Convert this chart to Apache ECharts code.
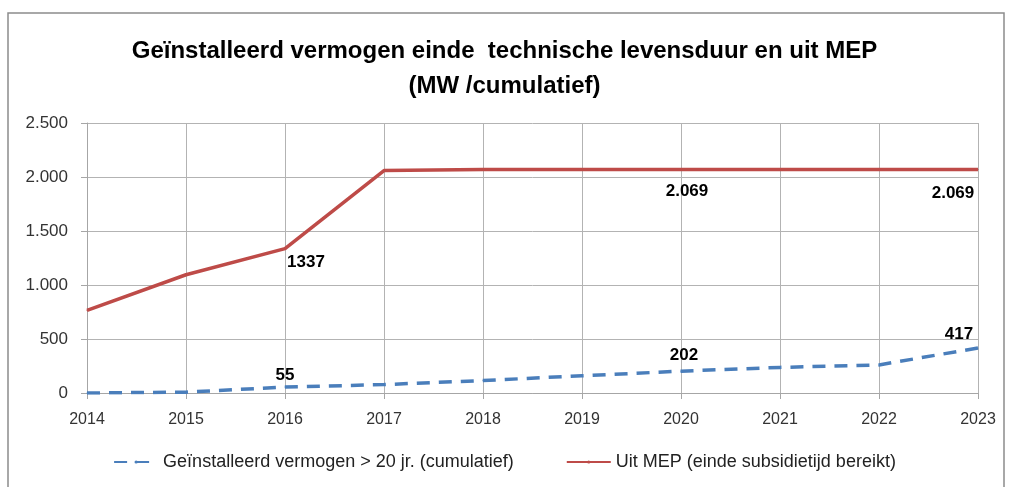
<!DOCTYPE html>
<html>
<head>
<meta charset="utf-8">
<script src="https://cdn.jsdelivr.net/npm/echarts@6/dist/echarts.min.js"></script>
<style>
  html, body { margin: 0; padding: 0; background: #fff; }
  #chart { width: 1009px; height: 487px; }
</style>
</head>
<body>
<div id="chart"></div>
<script>
// jaren op de x-as
const years = ['2014', '2015', '2016', '2017', '2018', '2019', '2020', '2021', '2022', '2023'];
// Geïnstalleerd vermogen > 20 jr. (cumulatief), MW
const installed = [0, 8, 55, 78, 115, 160, 202, 237, 260, 417];
// Uit MEP (einde subsidietijd bereikt), MW
const outOfMep = [765, 1095, 1337, 2060, 2069, 2069, 2069, 2069, 2069, 2069];
// welke punten een label krijgen
const installedLabelIdx = [2, 6, 9];
const mepLabelIdx = [2, 6, 9];

const seriesNames = ['Geïnstalleerd vermogen > 20 jr. (cumulatief)', 'Uit MEP (einde subsidietijd bereikt)'];

function nl(v) {
  return String(v).replace(/\B(?=(\d{3})+(?!\d))/g, '.');
}

const labelFont = { fontFamily: 'Liberation Sans', fontWeight: 'bold', fontSize: 17, color: '#000' };

// label-offsets per punt (alleen opmaak)
const installedLabelPos = {
  2: { position: 'top', offset: [0, 2] },
  6: { position: 'top', offset: [3, -2] },
  9: { position: 'top', offset: [-19, 0] }
};
const mepLabelPos = {
  2: { position: 'bottom', offset: [21, 0], fmt: v => String(v) },
  6: { position: 'bottom', offset: [6, 8], fmt: nl },
  9: { position: 'bottom', offset: [-25, 10], fmt: nl }
};

const installedData = installed.map((v, i) => {
  if (installedLabelIdx.indexOf(i) < 0) return v;
  const p = installedLabelPos[i];
  return { value: v, label: Object.assign({ show: true, position: p.position, offset: p.offset }, labelFont) };
});
const mepData = outOfMep.map((v, i) => {
  if (mepLabelIdx.indexOf(i) < 0) return v;
  const p = mepLabelPos[i];
  return {
    value: v,
    label: Object.assign({ show: true, position: p.position, offset: p.offset, formatter: o => p.fmt(o.value) }, labelFont)
  };
});

const chart = echarts.init(document.getElementById('chart'));
const option = {
  backgroundColor: '#fff',
  animation: false,
  graphic: [{
    type: 'rect',
    shape: { x: 8, y: 13, width: 996, height: 490 },
    style: { fill: 'none', stroke: '#8c8c8c', lineWidth: 1.5 },
    silent: true
  }],
  title: {
    text: 'Geïnstalleerd vermogen einde  technische levensduur en uit MEP\n(MW /cumulatief)',
    left: 'center',
    top: 29,
    textStyle: {
      fontFamily: 'Liberation Sans',
      fontWeight: 'bold',
      fontSize: 24,
      lineHeight: 35,
      color: '#000'
    }
  },
  legend: {
    bottom: 11,
    left: 'center',
    itemWidth: 44,
    itemHeight: 4,
    itemGap: 52,
    data: seriesNames,
    textStyle: { fontFamily: 'Liberation Sans', fontSize: 18, color: '#222' }
  },
  grid: { left: 87, right: 31, top: 123, bottom: 94 },
  xAxis: {
    type: 'category',
    boundaryGap: false,
    data: years,
    axisLine: { lineStyle: { color: '#a6a6a6', width: 1 } },
    axisTick: { show: true, length: 6, lineStyle: { color: '#a6a6a6' } },
    splitLine: { show: true, lineStyle: { color: '#b3b3b3', width: 1 } },
    axisLabel: { fontFamily: 'Liberation Sans', fontSize: 16, color: '#333', margin: 19, showMaxLabel: true }
  },
  yAxis: {
    type: 'value',
    min: 0,
    max: 2500,
    interval: 500,
    axisLine: { show: true, lineStyle: { color: '#a6a6a6' } },
    axisTick: { show: true, length: 6, lineStyle: { color: '#a6a6a6' } },
    splitLine: { lineStyle: { color: '#b3b3b3', width: 1 } },
    axisLabel: { fontFamily: 'Liberation Sans', fontSize: 17, color: '#333', margin: 19, formatter: nl }
  },
  series: [
    {
      name: seriesNames[0],
      type: 'line',
      data: installedData,
      symbol: 'circle',
      symbolSize: 1,
      itemStyle: { color: '#4a7ebb' },
      lineStyle: { color: '#4a7ebb', width: 3.5, type: [13, 9] }
    },
    {
      name: seriesNames[1],
      type: 'line',
      data: mepData,
      symbol: 'circle',
      symbolSize: 1,
      itemStyle: { color: '#be4b48' },
      lineStyle: { color: '#be4b48', width: 3.5 }
    }
  ]
};
chart.setOption(option);
</script>
</body>
</html>
